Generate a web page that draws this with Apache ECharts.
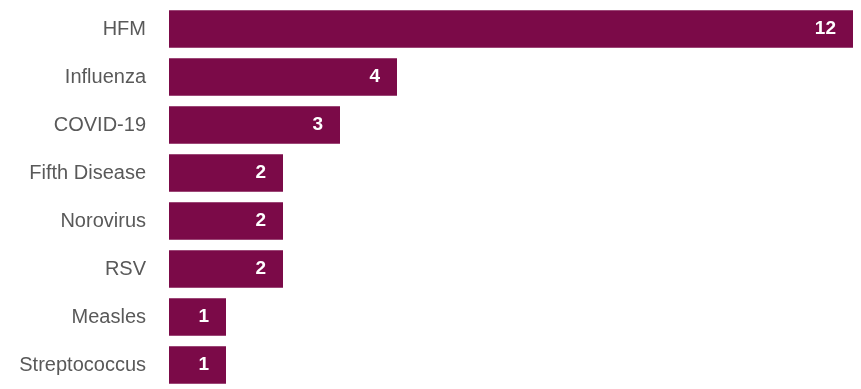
<!DOCTYPE html>
<html>
<head>
<meta charset="utf-8">
<script src="https://cdn.jsdelivr.net/npm/echarts@6/dist/echarts.min.js"></script>
<style>
  html, body { margin: 0; padding: 0; background: #ffffff; }
  #chart { width: 861px; height: 389px; }
</style>
</head>
<body>
<div id="chart"></div>
<script>
// Case counts by illness
const diseases = ['HFM', 'Influenza', 'COVID-19', 'Fifth Disease', 'Norovirus', 'RSV', 'Measles', 'Streptococcus'];
const cases = [12, 4, 3, 2, 2, 2, 1, 1];

const chart = echarts.init(document.getElementById('chart'), null, { renderer: 'canvas' });

chart.setOption({
  backgroundColor: '#ffffff',
  animation: false,
  grid: { left: 169, right: 8, top: 5, bottom: -5, containLabel: false },
  xAxis: {
    type: 'value',
    min: 0,
    max: 12,
    show: false
  },
  yAxis: {
    type: 'category',
    data: diseases,
    inverse: true,
    axisLine: { show: false },
    axisTick: { show: false },
    axisLabel: {
      margin: 23,
      color: '#595959',
      fontSize: 20,
      fontFamily: '"Liberation Sans", Arial, sans-serif'
    }
  },
  series: [{
    type: 'bar',
    data: cases,
    barCategoryGap: '22%',
    itemStyle: { color: '#7b0a48' },
    label: {
      show: true,
      position: 'insideRight',
      distance: 17,
      color: '#ffffff',
      fontWeight: 'bold',
      fontSize: 19,
      fontFamily: '"Liberation Sans", Arial, sans-serif'
    }
  }]
});
</script>
</body>
</html>
